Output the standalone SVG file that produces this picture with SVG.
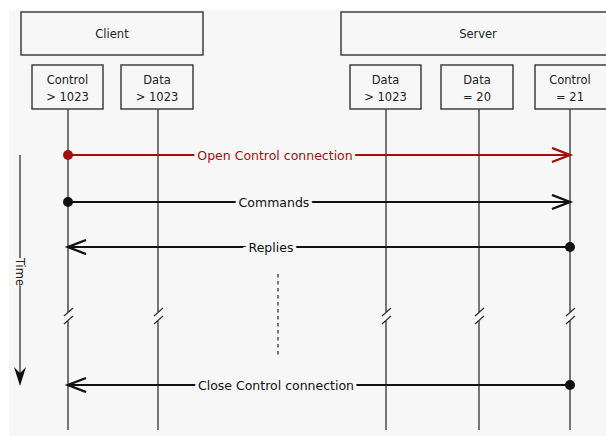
<svg xmlns="http://www.w3.org/2000/svg" width="606" height="436" viewBox="0 0 606 436">
  <style>
    .box { fill: #f7f7f7; stroke: #333; stroke-width: 1.4; }
    .lbl { font-family: "DejaVu Sans", "Liberation Sans", sans-serif; font-size: 11.5px; fill: #222; text-anchor: middle; }
    .life { stroke: #333; stroke-width: 1.3; fill: none; }
    .msg { stroke: #111; stroke-width: 2.2; fill: none; }
    .msg.red { stroke: #a0100f; }
    .mtxt { font-family: "DejaVu Sans", "Liberation Sans", sans-serif; font-size: 12.5px; text-anchor: middle; fill: #111; stroke: #f7f7f7; stroke-width: 7; paint-order: stroke; }
    .mtxt.red { fill: #a0100f; }
  </style>
  <defs>
    <marker id="headBlack" markerUnits="userSpaceOnUse" markerWidth="24" markerHeight="20" refX="20" refY="8" orient="auto">
      <path d="M2,1 L20,8 L2,15" fill="none" stroke="#111" stroke-width="2.4" stroke-linejoin="miter"/>
    </marker>
    <marker id="headRed" markerUnits="userSpaceOnUse" markerWidth="24" markerHeight="20" refX="20" refY="8" orient="auto">
      <path d="M2,1 L20,8 L2,15" fill="none" stroke="#a0100f" stroke-width="2.4" stroke-linejoin="miter"/>
    </marker>
  </defs>

  <rect x="9" y="10" width="600" height="430" fill="#f7f7f7"/>

  <!-- hosts -->
  <g id="client">
    <rect class="box" x="21" y="12" width="182" height="43"/>
    <text class="lbl" x="112" y="38">Client</text>
  </g>
  <g id="server">
    <rect class="box" x="341" y="12" width="270" height="43"/>
    <text class="lbl" x="478" y="38">Server</text>
  </g>

  <!-- ports -->
  <g id="client-control">
    <rect class="box" x="32" y="65" width="71" height="44"/>
    <text class="lbl" x="67.5" y="84">Control</text>
    <text class="lbl" x="67.5" y="101">&gt; 1023</text>
  </g>
  <g id="client-data">
    <rect class="box" x="121" y="65" width="72" height="44"/>
    <text class="lbl" x="157" y="84">Data</text>
    <text class="lbl" x="157" y="101">&gt; 1023</text>
  </g>
  <g id="server-data-high">
    <rect class="box" x="350" y="65" width="71" height="44"/>
    <text class="lbl" x="385.5" y="84">Data</text>
    <text class="lbl" x="385.5" y="101">&gt; 1023</text>
  </g>
  <g id="server-data-20">
    <rect class="box" x="441" y="65" width="72" height="44"/>
    <text class="lbl" x="477" y="84">Data</text>
    <text class="lbl" x="477" y="101">= 20</text>
  </g>
  <g id="server-control-21">
    <rect class="box" x="535" y="65" width="76" height="44"/>
    <text class="lbl" x="570" y="84">Control</text>
    <text class="lbl" x="570" y="101">= 21</text>
  </g>

  <!-- lifelines with break marks -->
  <g id="lifelines">
    <path class="life" d="M68,109 V312 M68,320 V430 M64,316 L73,308 M64,324 L73,316"/>
    <path class="life" d="M158,109 V312 M158,320 V430 M154,316 L163,308 M154,324 L163,316"/>
    <path class="life" d="M386,109 V312 M386,320 V430 M382,316 L391,308 M382,324 L391,316"/>
    <path class="life" d="M479,109 V312 M479,320 V430 M475,316 L484,308 M475,324 L484,316"/>
    <path class="life" d="M570,109 V312 M570,320 V430 M566,316 L575,308 M566,324 L575,316"/>
    <path d="M278,274 V357" stroke="#333" stroke-width="1.3" stroke-dasharray="3.5,3.5"/>
  </g>

  <!-- time axis -->
  <g id="time-axis">
    <path d="M20,155 V258 M20,286 V378" stroke="#333" stroke-width="1.3" fill="none"/>
    <path d="M20,386 L14,367 L20,373 L26,367 Z" fill="#111"/>
    <text class="lbl" transform="translate(16,272) rotate(90)" x="0" y="0">Time</text>
  </g>

  <!-- messages -->
  <g id="connectors">
    <line class="msg red" x1="68" y1="155" x2="570" y2="155" marker-end="url(#headRed)"/>
    <circle cx="68" cy="155" r="5" fill="#a0100f"/>
    <text class="mtxt red" x="275" y="159.5">Open Control connection</text>

    <line class="msg" x1="68" y1="202" x2="570" y2="202" marker-end="url(#headBlack)"/>
    <circle cx="68" cy="202" r="5" fill="#111"/>
    <text class="mtxt" x="274" y="206.5">Commands</text>

    <line class="msg" x1="570" y1="247" x2="68" y2="247" marker-end="url(#headBlack)"/>
    <circle cx="570" cy="247" r="5" fill="#111"/>
    <text class="mtxt" x="271" y="251.5">Replies</text>

    <line class="msg" x1="570" y1="385" x2="68" y2="385" marker-end="url(#headBlack)"/>
    <circle cx="570" cy="385" r="5" fill="#111"/>
    <text class="mtxt" x="276" y="389.5">Close Control connection</text>
  </g>
</svg>
